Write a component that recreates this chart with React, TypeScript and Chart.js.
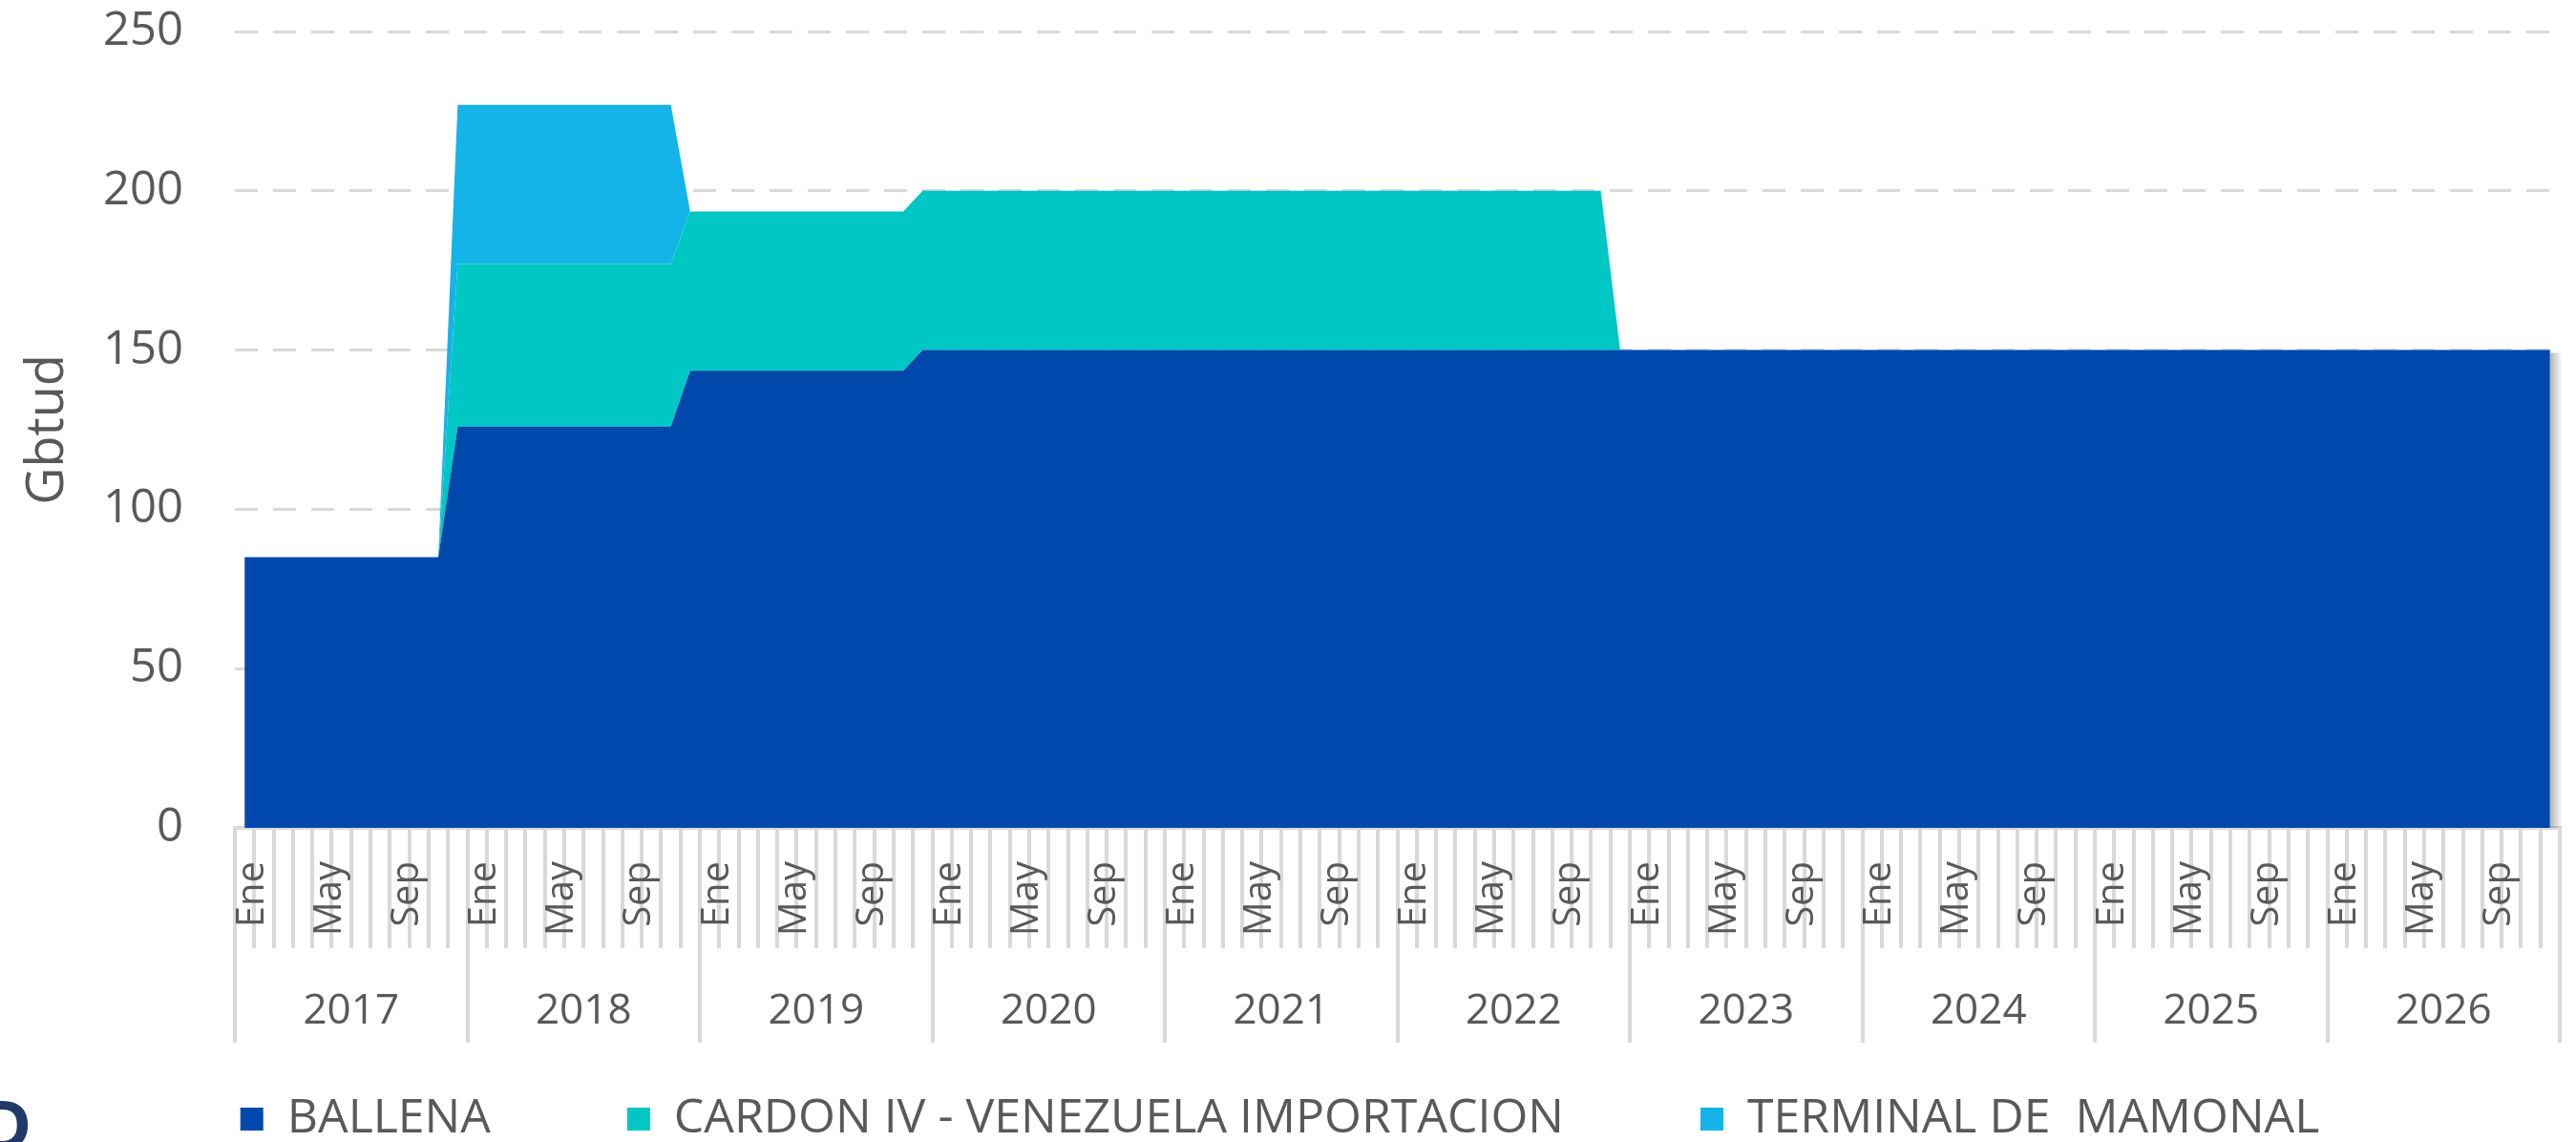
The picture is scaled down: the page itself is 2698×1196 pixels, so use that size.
import React, { useEffect, useRef } from 'react';
import { Chart, registerables } from 'chart.js';

Chart.register(...registerables);

// ---- data ----
const years = ['2017', '2018', '2019', '2020', '2021', '2022', '2023', '2024', '2025', '2026'];
const monthNames = ['Ene', 'Feb', 'Mar', 'Abr', 'May', 'Jun', 'Jul', 'Ago', 'Sep', 'Oct', 'Nov', 'Dic'];
const shownMonths = ['Ene', 'May', 'Sep'];
const categories = years.flatMap((y) => monthNames.map((m) => `${m} ${y}`));

const seriesNames = ['BALLENA', 'CARDON IV - VENEZUELA IMPORTACION', 'TERMINAL DE  MAMONAL'];

const ballena = [
  85, 85, 85, 85, 85, 85, 85, 85, 85, 85, 85, 126, // 2017
  126, 126, 126, 126, 126, 126, 126, 126, 126, 126, 126, 143.5, // 2018
  143.5, 143.5, 143.5, 143.5, 143.5, 143.5, 143.5, 143.5, 143.5, 143.5, 143.5, 150, // 2019
  150, 150, 150, 150, 150, 150, 150, 150, 150, 150, 150, 150, // 2020
  150, 150, 150, 150, 150, 150, 150, 150, 150, 150, 150, 150, // 2021
  150, 150, 150, 150, 150, 150, 150, 150, 150, 150, 150, 150, // 2022
  150, 150, 150, 150, 150, 150, 150, 150, 150, 150, 150, 150, // 2023
  150, 150, 150, 150, 150, 150, 150, 150, 150, 150, 150, 150, // 2024
  150, 150, 150, 150, 150, 150, 150, 150, 150, 150, 150, 150, // 2025
  150, 150, 150, 150, 150, 150, 150, 150, 150, 150, 150, 150, // 2026
];

const cardon = [
  0, 0, 0, 0, 0, 0, 0, 0, 0, 0, 0, 51, // 2017
  51, 51, 51, 51, 51, 51, 51, 51, 51, 51, 51, 50, // 2018
  50, 50, 50, 50, 50, 50, 50, 50, 50, 50, 50, 50, // 2019
  50, 50, 50, 50, 50, 50, 50, 50, 50, 50, 50, 50, // 2020
  50, 50, 50, 50, 50, 50, 50, 50, 50, 50, 50, 50, // 2021
  50, 50, 50, 50, 50, 50, 50, 50, 50, 50, 50, 0, // 2022
  0, 0, 0, 0, 0, 0, 0, 0, 0, 0, 0, 0, // 2023
  0, 0, 0, 0, 0, 0, 0, 0, 0, 0, 0, 0, // 2024
  0, 0, 0, 0, 0, 0, 0, 0, 0, 0, 0, 0, // 2025
  0, 0, 0, 0, 0, 0, 0, 0, 0, 0, 0, 0, // 2026
];

const terminal = [
  0, 0, 0, 0, 0, 0, 0, 0, 0, 0, 0, 50, // 2017
  50, 50, 50, 50, 50, 50, 50, 50, 50, 50, 50, 0, // 2018
  0, 0, 0, 0, 0, 0, 0, 0, 0, 0, 0, 0, // 2019
  0, 0, 0, 0, 0, 0, 0, 0, 0, 0, 0, 0, // 2020
  0, 0, 0, 0, 0, 0, 0, 0, 0, 0, 0, 0, // 2021
  0, 0, 0, 0, 0, 0, 0, 0, 0, 0, 0, 0, // 2022
  0, 0, 0, 0, 0, 0, 0, 0, 0, 0, 0, 0, // 2023
  0, 0, 0, 0, 0, 0, 0, 0, 0, 0, 0, 0, // 2024
  0, 0, 0, 0, 0, 0, 0, 0, 0, 0, 0, 0, // 2025
  0, 0, 0, 0, 0, 0, 0, 0, 0, 0, 0, 0, // 2026
];

const yTicks = { min: 0, max: 250, step: 50 };
const yTitle = 'Gbtud';

// ---- styles ----
const FONT = '"Open Sans", "Liberation Sans", sans-serif';
const TEXT = '#595959';
const GRID = '#d9d9d9';
const colors = ['#0048AC', '#00C7C3', '#14B4E8'];
const MONTH_FONT = 40;
const YEAR_FONT = 44;

// soft shadow along the right edge of the stacked areas
const edgeShadow = {
  id: 'edgeShadow',
  afterDatasetsDraw(chart: any) {
    const x = chart.scales.x;
    const y = chart.scales.y;
    const last = categories.length - 1;
    const top = ballena[last] + cardon[last] + terminal[last];
    const px = x.getPixelForValue(last);
    const py = y.getPixelForValue(top);
    const pb = y.getPixelForValue(0);
    const ctx = chart.ctx;
    ctx.save();
    const g = ctx.createLinearGradient(px, 0, px + 13, 0);
    g.addColorStop(0, 'rgba(90,90,90,0.45)');
    g.addColorStop(1, 'rgba(90,90,90,0)');
    ctx.fillStyle = g;
    ctx.fillRect(px, py + 3, 13, pb - py - 3);
    ctx.restore();
  },
};

export default function App() {
  const ref = useRef<HTMLCanvasElement>(null);

  useEffect(() => {
    document.body.style.margin = '0';
    document.body.style.overflow = 'hidden';
    const canvas = ref.current;
    if (!canvas) return;
    const series = [ballena, cardon, terminal];
    const chart = new Chart(canvas, {
      type: 'line',
      data: {
        labels: categories,
        datasets: series.map((d, i) => ({
          label: seriesNames[i],
          data: d,
          backgroundColor: colors[i],
          borderColor: colors[i],
          borderWidth: 0,
          pointRadius: 0,
          tension: 0,
          fill: i === 0 ? 'origin' : '-1',
        })),
      },
      plugins: [edgeShadow],
      options: {
        responsive: false,
        animation: false,
        events: [],
        layout: { padding: { top: 33, right: 17, bottom: 0, left: 0 } },
        plugins: {
          tooltip: { enabled: false },
          legend: {
            position: 'bottom',
            labels: {
              font: { family: FONT, size: 50 },
              color: TEXT,
              boxWidth: 24,
              boxHeight: 24,
              padding: 143,
            },
          },
        },
        scales: {
          y: {
            stacked: true,
            min: yTicks.min,
            max: yTicks.max,
            ticks: { stepSize: yTicks.step, font: { family: FONT, size: 49 }, color: TEXT, padding: 0 },
            grid: { color: GRID, lineWidth: 3, drawTicks: true, tickLength: 54, tickColor: 'rgba(0,0,0,0)' },
            border: { display: false, dash: [24, 16] },
            title: {
              display: true,
              text: yTitle,
              font: { family: FONT, size: 54 },
              color: TEXT,
              padding: { top: 18, bottom: 0 },
            },
            afterFit: (s: any) => {
              s.width = 246;
            },
          },
          x: {
            type: 'category',
            position: 'bottom',
            weight: 0,
            offset: true,
            grid: {
              offset: true,
              drawOnChartArea: false,
              tickLength: 126,
              color: GRID,
              lineWidth: 4,
            },
            border: { display: true, color: GRID, width: 4 },
            ticks: {
              autoSkip: false,
              minRotation: 90,
              maxRotation: 90,
              mirror: true,
              padding: -35,
              labelOffset: MONTH_FONT * 1.2 + 8,
              font: { family: FONT, size: MONTH_FONT },
              color: TEXT,
              callback: (_v: any, index: number) => {
                const m = monthNames[index % 12];
                return shownMonths.includes(m) ? m : '';
              },
            },
            afterFit: (s: any) => {
              s.height = 68;
            },
          },
          x2: {
            type: 'category',
            labels: years,
            position: 'bottom',
            weight: 1,
            offset: true,
            grid: {
              offset: true,
              drawOnChartArea: false,
              tickLength: 157,
              color: GRID,
              lineWidth: 4,
            },
            border: { display: false },
            ticks: {
              autoSkip: false,
              maxRotation: 0,
              mirror: true,
              padding: -151,
              font: { family: FONT, size: YEAR_FONT },
              color: TEXT,
            },
            afterFit: (s: any) => {
              s.height = 69;
            },
          },
        },
      } as any,
    });
    return () => chart.destroy();
  }, []);

  return (
    <div style={{ position: 'relative', width: 2698, height: 1196, overflow: 'hidden', background: '#fff' }}>
      <canvas ref={ref} width={2698} height={1207} style={{ display: 'block' }} />
      <div
        style={{
          position: 'absolute',
          left: -20,
          top: 1140,
          fontFamily: FONT,
          fontWeight: 700,
          fontSize: 72,
          lineHeight: 1,
          color: '#1f3a68',
        }}
      >
        D
      </div>
    </div>
  );
}
